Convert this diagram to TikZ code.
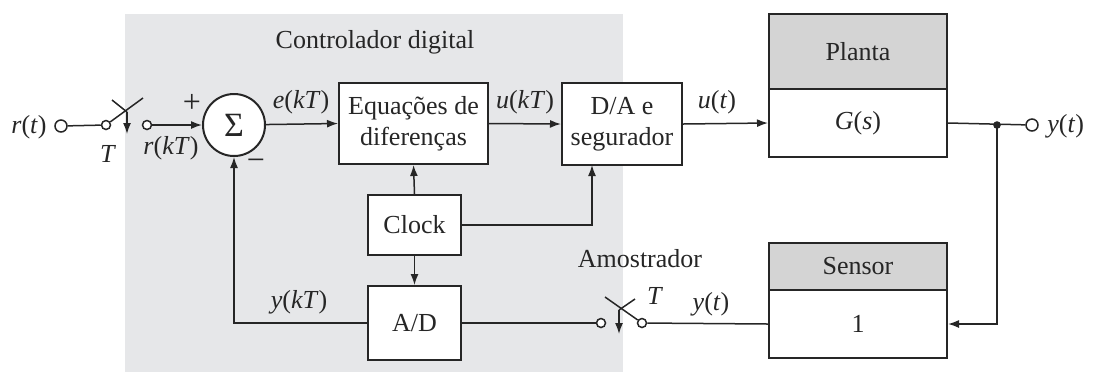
\documentclass[tikz,border=0pt]{standalone}
\usepackage{fontspec}
\setmainfont{Liberation Serif}
\usetikzlibrary{arrows.meta}
\definecolor{bgc}{HTML}{E6E7E9}
\definecolor{hdr}{HTML}{D4D4D4}
\definecolor{ink}{HTML}{262626}
\begin{document}
\begin{tikzpicture}[x=0.5pt,y=-0.5pt, font=\fontsize{13}{15.5}\selectfont, text=ink,
 box/.style={draw=ink, line width=1pt, fill=white, inner sep=0pt, align=center},
 wire/.style={line width=0.75pt, draw=ink},
 arr/.style={wire, -{Latex[length=5.5pt,width=4pt]}},
 term/.style={circle, draw=ink, line width=0.75pt, fill=white, inner sep=0pt, minimum size=#1},
 lbl/.style={inner sep=0pt}]
\useasboundingbox (0,0) rectangle (1093,372);
\fill[bgc] (125,14) rectangle (623,372);
\node[lbl] (ctl) at (375,42) {Controlador digital};

% blocks
\node[box, circle, minimum size=31pt] (sum) at (234,125) {\fontsize{17}{17}\selectfont Σ};
\node[box, minimum width=74.5pt, minimum height=40.5pt] (eq) at (413.5,123.5) {Equações de\\diferenças};
\node[box, minimum width=60pt, minimum height=41pt] (da) at (622,124) {D/A e\\segurador};
\node[box, minimum width=46.5pt, minimum height=30pt] (clk) at (414.5,225) {Clock};
\node[box, minimum width=46.5pt, minimum height=37pt] (ad) at (414.5,323) {A/D};
\node[box, fill=hdr, minimum width=89pt, minimum height=37.5pt] (plT) at (858,51.5) {Planta};
\node[box, minimum width=89pt, minimum height=34pt] (plB) at (858,123) {\textit{G}(\textit{s})};
\node[box, fill=hdr, minimum width=89pt, minimum height=23.5pt] (seT) at (858,266.5) {Sensor};
\node[box, minimum width=89pt, minimum height=34pt] (seB) at (858,324) {1};

% input sampler
\node[term=6pt] (rin) at (61,126) {};
\node[lbl, anchor=east] (rlab) at (47,127) {\textit{r}(\textit{t})};
\node[term=4.5pt] (s1a) at (106,125) {};
\node[term=4.5pt] (s1b) at (147,125) {};
\coordinate (s1tip) at (143,98);
\coordinate (s1x1) at (112,100);
\coordinate (s1x2) at (127,112);
\coordinate (s1ar) at (127,134);
\draw[wire] (rin) -- (s1a);
\draw[wire] (s1a) -- (s1tip);
\draw[wire] (s1x1) -- (s1x2);
\draw[arr] (s1x2) -- (s1ar);
\node[lbl] (T1) at (108,154) {\textit{T}};
\node[lbl] (rkt) at (171,148) {\textit{r}(\textit{kT})};
\draw[arr] (s1b) -- (sum);
\node[lbl] (plus) at (192,103) {\fontsize{16}{16}\selectfont +};
\node[lbl] (minus) at (256,165) {\fontsize{16}{16}\selectfont −};

% forward path
\draw[arr] (sum) -- (eq.west);
\node[lbl] (ekt) at (301,102) {\textit{e}(\textit{kT})};
\draw[arr] (eq.east) -- (da.west);
\node[lbl] (ukt) at (525,102) {\textit{u}(\textit{kT})};
\draw[arr] (da.east) -- (plB.west);
\node[lbl] (ut) at (717,102) {\textit{u}(\textit{t})};

% clock
\draw[arr] (clk.north) -- (eq.south);
\draw[arr] (clk.south) -- (ad.north);
\coordinate (dab) at (592,165);
\draw[arr] (clk.east) -| (dab);

% output
\node[term=6pt] (yout) at (1032,125) {};
\node[lbl, anchor=west] (ylab) at (1047,126) {\textit{y}(\textit{t})};
\coordinate (jn) at (997,125);
\draw[wire] (plB.east) -- (yout);
\fill[ink] (jn) circle (1.9pt);
\draw[arr] (jn) |- (seB.east);

% feedback sampler
\node[term=4.5pt] (s2a) at (601,323) {};
\node[term=4.5pt] (s2b) at (642,323) {};
\coordinate (s2tip) at (605,297);
\coordinate (s2x1) at (635,299);
\coordinate (s2x2) at (619,310);
\coordinate (s2ar) at (619,334);
\draw[wire] (s2b) -- (s2tip);
\draw[wire] (s2x1) -- (s2x2);
\draw[arr] (s2x2) -- (s2ar);
\node[lbl] (amo) at (640,259) {Amostrador};
\node[lbl] (T2) at (655,296) {\textit{T}};
\node[lbl] (yt2) at (711,304) {\textit{y}(\textit{t})};
\draw[wire] (seB.west) -- (s2b);
\draw[wire] (ad.east) -- (s2a);
\draw[arr] (ad.west) -| (sum.south);
\node[lbl] (ykt) at (299,302) {\textit{y}(\textit{kT})};
\end{tikzpicture}
\end{document}
